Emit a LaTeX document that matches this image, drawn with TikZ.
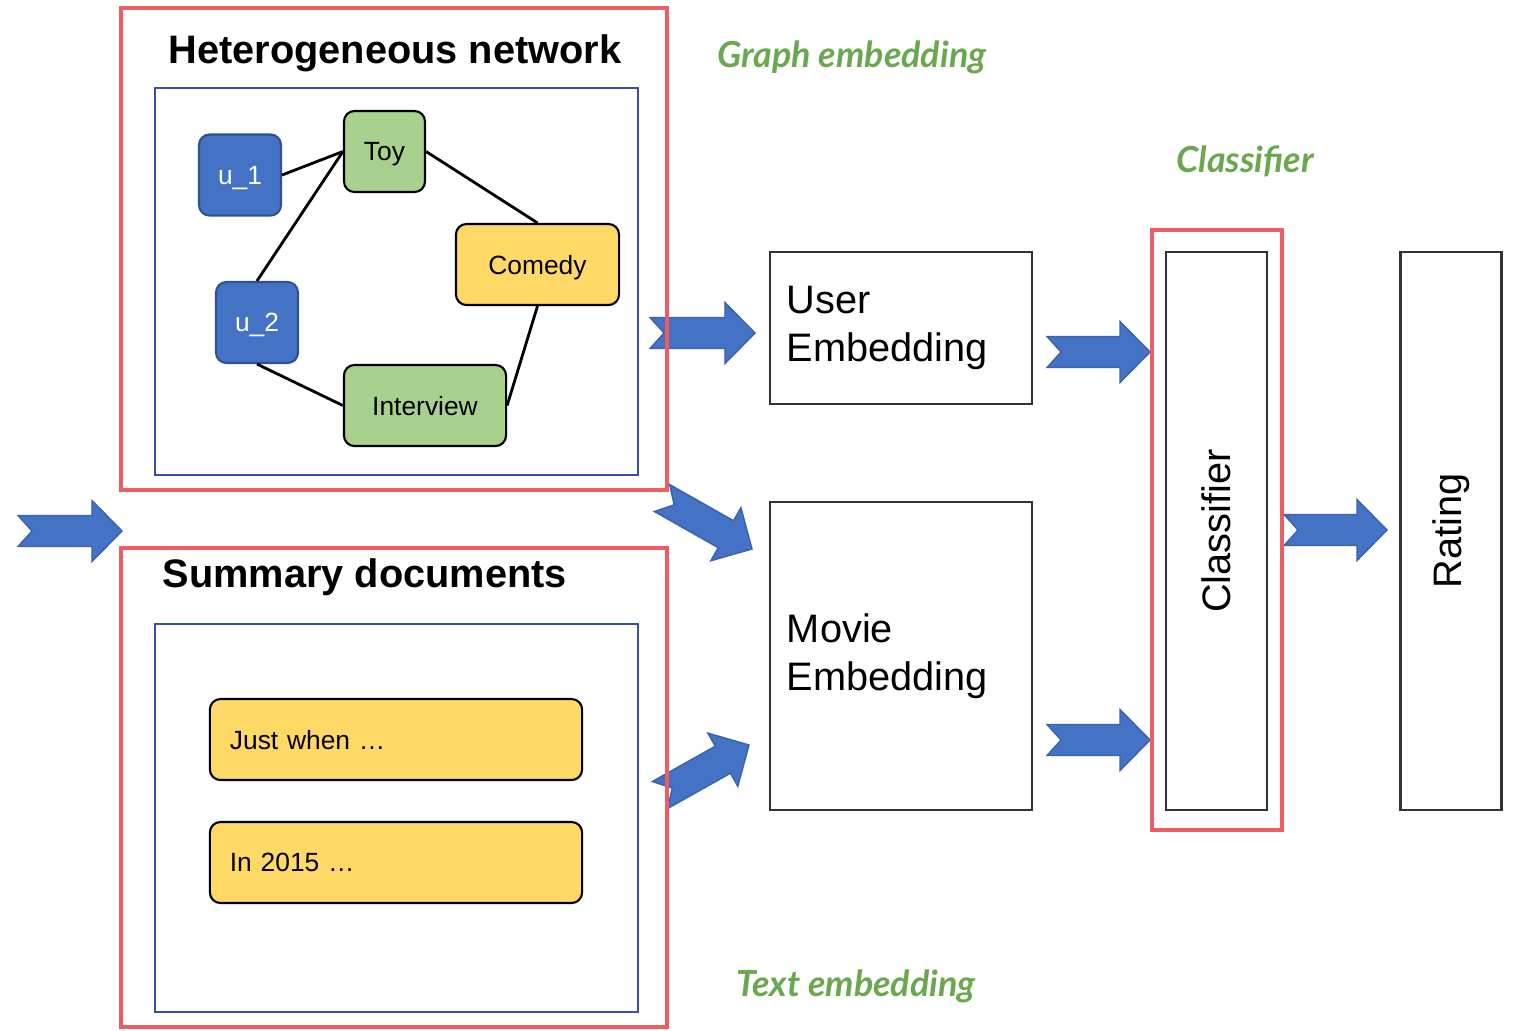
\documentclass[tikz,border=0pt]{standalone}
\usepackage{fontspec}
\setmainfont{Liberation Sans}
\newfontfamily\greenfont{Lato}
\usetikzlibrary{calc}
\definecolor{framered}{HTML}{EE5D61}
\definecolor{userblue}{HTML}{4472C4}
\definecolor{useredge}{HTML}{2F528F}
\definecolor{itemgreen}{HTML}{A9D18E}
\definecolor{itemyellow}{HTML}{FFD966}
\definecolor{panelblue}{HTML}{3B4EA3}
\definecolor{labelgreen}{HTML}{6AA84F}
\definecolor{arrowedge}{HTML}{3A62AE}
\tikzset{
  redframe/.style={draw=framered, line width=1.4pt},
  panel/.style={draw=panelblue, line width=0.6pt},
  smallfont/.style={font=\fontsize{7.5}{9}\selectfont},
  bigfont/.style={font=\fontsize{11.3}{13.6}\selectfont},
  item/.style={draw=black, rounded corners=3pt, line width=0.6pt, smallfont, minimum height=0.81cm, inner sep=0pt, text depth=0pt},
  usernode/.style={item, draw=useredge, fill=userblue, text=white, minimum width=0.82cm},
  genrenode/.style={item, fill=itemgreen},
  moodnode/.style={item, fill=itemyellow},
  docnode/.style={item, fill=itemyellow, minimum width=3.72cm, text width=3.32cm, align=left},
  embbox/.style={draw=black!80, line width=0.7pt, bigfont, align=left, text width=2.28cm, inner sep=0.17cm, minimum width=2.62cm},
  tallbox/.style={draw=black!80, line width=0.7pt, bigfont, rotate=90, minimum width=5.58cm, minimum height=1.01cm},
  titletext/.style={font=\fontsize{11.3}{13.6}\selectfont\bfseries, inner sep=0pt},
  greenlabel/.style={text=labelgreen, font=\greenfont\fontsize{10.2}{12}\selectfont\bfseries\itshape, inner sep=0pt},
  edge/.style={line width=0.8pt},
  fatarrow/.style={fill=userblue, draw=arrowedge, line width=0.4pt}
}
% notched block arrow from tail #1 to tip #2
\newcommand{\blockarrow}[2]{
  \coordinate (ba-h) at ($(#2)!0.30cm!(#1)$);
  \coordinate (ba-n) at ($(#1)!0.14cm!(#2)$);
  \filldraw[fatarrow] ($(#1)!0.155cm!90:(#2)$) -- ($(ba-h)!0.155cm!90:(#2)$) -- ($(ba-h)!0.305cm!90:(#2)$) -- (#2) -- ($(ba-h)!0.305cm!-90:(#2)$) -- ($(ba-h)!0.155cm!-90:(#2)$) -- ($(#1)!0.155cm!-90:(#2)$) -- (ba-n) -- cycle;}

\begin{document}
\begin{tikzpicture}[x=0.01cm, y=-0.01cm]
    \useasboundingbox (0,0) rectangle (1513,1030);

    % arrows
    \coordinate (in-tail) at (18,531);      \coordinate (in-tip) at (122,531);
    \coordinate (net-tail) at (650,333);    \coordinate (net-tip) at (755,333);
    \coordinate (net2-tail) at (662,498);   \coordinate (net2-tip) at (752,549);
    \coordinate (doc-tail) at (660,795);    \coordinate (doc-tip) at (749,745);
    \coordinate (user-tail) at (1047,352);  \coordinate (user-tip) at (1150,352);
    \coordinate (movie-tail) at (1047,740); \coordinate (movie-tip) at (1150,740);
    \coordinate (clf-tail) at (1284,530);   \coordinate (clf-tip) at (1387,530);
    \blockarrow{in-tail}{in-tip}
    \blockarrow{net-tail}{net-tip}
    \blockarrow{net2-tail}{net2-tip}
    \blockarrow{doc-tail}{doc-tip}
    \blockarrow{user-tail}{user-tip}
    \blockarrow{movie-tail}{movie-tip}
    \blockarrow{clf-tail}{clf-tip}

    % network panel
    \draw[redframe] (121,8) rectangle (667,490);
    \draw[panel] (155,88) rectangle (638,475);
    \node[titletext] (nettitle) at (395,53) {Heterogeneous network};
    \node[usernode] (u1) at (240,175) {u\_1};
    \node[usernode] (u2) at (257,322.5) {u\_2};
    \node[genrenode, minimum width=0.81cm] (toy) at (384.5,151.5) {Toy};
    \node[moodnode, minimum width=1.63cm] (comedy) at (537.5,264.5) {Comedy};
    \node[genrenode, minimum width=1.62cm] (interview) at (425,405.5) {Interview};
    \draw[edge] (u1.east) -- (toy.west);
    \draw[edge] (toy.west) -- (u2.north);
    \draw[edge] (toy.east) -- (comedy.north);
    \draw[edge] (comedy.south) -- (interview.east);
    \draw[edge] (u2.south) -- (interview.west);

    % documents panel
    \draw[redframe] (121,548) rectangle (667,1027);
    \draw[panel] (155,624) rectangle (638,1012);
    \node[titletext, anchor=west] (doctitle) at (162,577) {Summary documents};
    \node[docnode] (doc1) at (396,739.5) {Just when …};
    \node[docnode] (doc2) at (396,862.5) {In 2015 …};

    % embeddings
    \node[embbox, minimum height=1.52cm] (user) at (901,328) {User\\Embedding};
    \node[embbox, minimum height=3.08cm] (movie) at (901,656) {Movie\\Embedding};

    % classifier and rating
    \draw[redframe] (1152,230) rectangle (1282,830);
    \node[tallbox] (clf) at (1216.5,531) {Classifier};
    \node[tallbox] (rating) at (1451,531) {Rating};

    % labels
    \node[greenlabel] (graphlbl) at (852,57) {Graph embedding};
    \node[greenlabel] (clflbl) at (1245,161) {Classifier};
    \node[greenlabel] (textlbl) at (856,986) {Text embedding};
\end{tikzpicture}
\end{document}
